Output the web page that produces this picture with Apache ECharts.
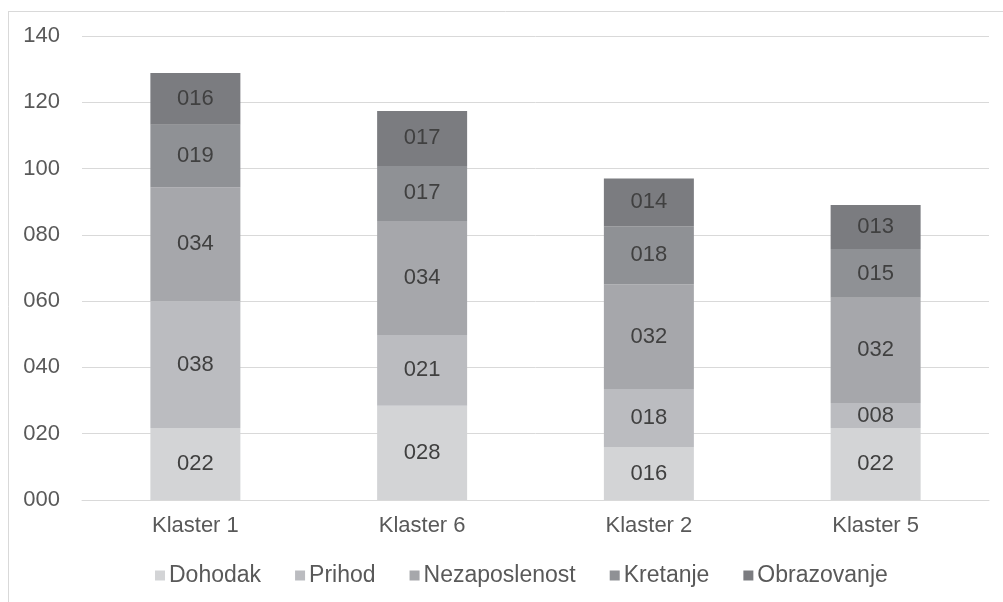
<!DOCTYPE html>
<html><head><meta charset="utf-8">
<script src="https://cdn.jsdelivr.net/npm/echarts@6/dist/echarts.min.js"></script>
<style>html,body{margin:0;padding:0;background:#fff}#c{width:1003px;height:602px}</style>
</head><body><div id="c"></div>
<script>
const categories = ['Klaster 1', 'Klaster 6', 'Klaster 2', 'Klaster 5'];
const seriesNames = ['Dohodak', 'Prihod', 'Nezaposlenost', 'Kretanje', 'Obrazovanje'];
const dohodak = [21.7, 28.4, 16.0, 21.7];
const prihod = [38.3, 21.4, 17.5, 7.6];
const nezaposlenost = [34.4, 34.4, 31.5, 31.7];
const kretanje = [18.8, 16.6, 17.6, 14.7];
const obrazovanje = [15.6, 16.6, 14.4, 13.3];
const yTicks = [0, 20, 40, 60, 80, 100, 120, 140];
const colors = ['#d3d4d6', '#bbbcc0', '#a6a7ab', '#8f9195', '#7b7c80'];
const allData = [dohodak, prihod, nezaposlenost, kretanje, obrazovanje];

const pad = v => String(Math.round(v)).padStart(3, '0');
const chart = echarts.init(document.getElementById('c'));
chart.setOption({
  animation: false,
  backgroundColor: '#fff',
  textStyle: { fontFamily: 'Liberation Sans, Arial, sans-serif' },
  grid: { left: 82, right: 14, top: 36, bottom: 102, containLabel: false },
  legend: {
    data: seriesNames, bottom: 10, left: 150, itemWidth: 10, itemHeight: 10, itemGap: 34,
    icon: 'rect', textStyle: { color: '#595959', fontSize: 23, padding: [0, 0, 0, -1] }
  },
  xAxis: {
    type: 'category', data: categories,
    axisLine: { lineStyle: { color: '#d9d9d9' } }, axisTick: { show: false },
    axisLabel: { color: '#595959', fontSize: 22, margin: 15 }
  },
  yAxis: {
    type: 'value', min: yTicks[0], max: yTicks[yTicks.length - 1], interval: 20,
    axisLine: { show: false }, axisTick: { show: false },
    splitLine: { lineStyle: { color: '#d9d9d9' } },
    axisLabel: { color: '#595959', fontSize: 22, margin: 22, formatter: v => pad(v) }
  },
  series: seriesNames.map((n, i) => ({
    name: n, type: 'bar', stack: 'total', data: allData[i], barWidth: 90,
    itemStyle: { color: colors[i] },
    label: { show: true, position: 'inside', color: '#404040', fontSize: 22, formatter: p => pad(p.value) }
  })),
  graphic: [
    { type: 'line', shape: { x1: 8.5, y1: 11, x2: 8.5, y2: 602 }, style: { stroke: '#d9d9d9', lineWidth: 1 } },
    { type: 'line', shape: { x1: 8, y1: 11.5, x2: 1003, y2: 11.5 }, style: { stroke: '#d9d9d9', lineWidth: 1 } }
  ]
});
</script></body></html>
